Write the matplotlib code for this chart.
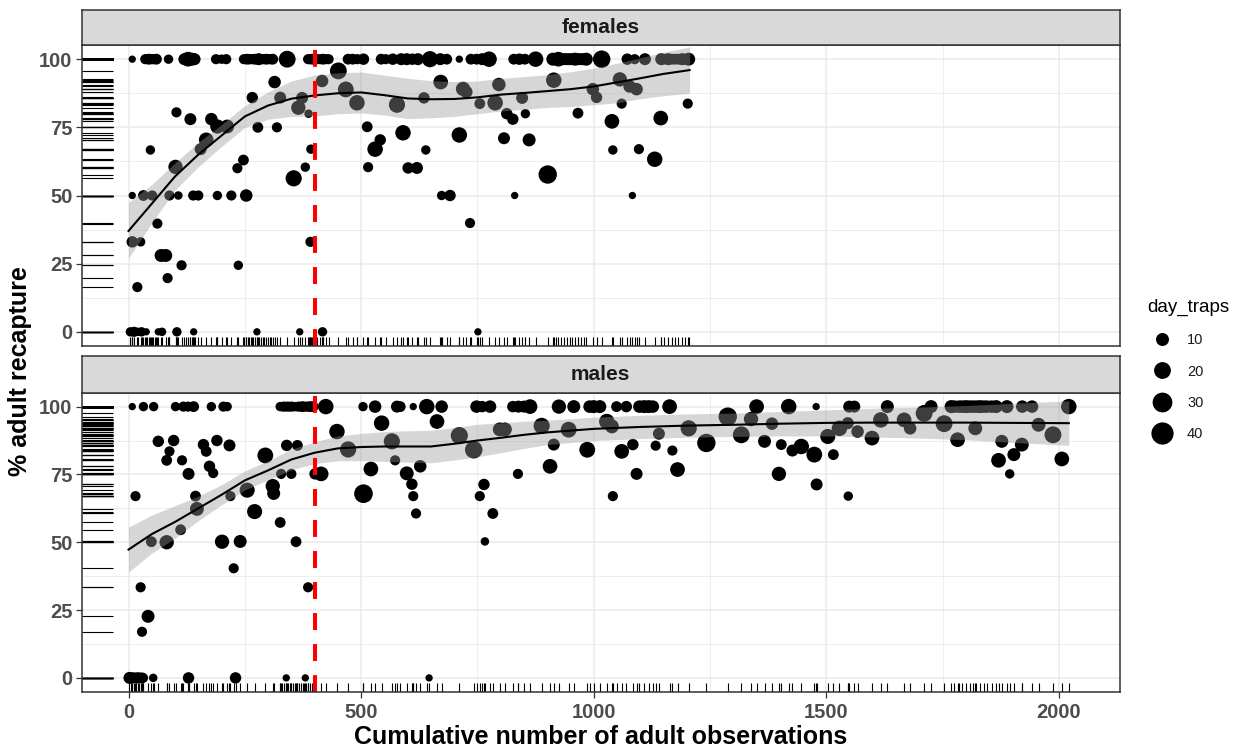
#!/usr/bin/env python3

"""
Adult recapture (%) against cumulative adult observations, females vs males,
with a loess-style smooth, its confidence band and marginal rugs.
"""

import numpy as np
import matplotlib

matplotlib.use("Agg")

import matplotlib.pyplot as plt
from matplotlib.lines import Line2D

plt.rcParams["font.family"] = ["Liberation Sans", "DejaVu Sans"]

DPI = 100
W_PX, H_PX = 1244, 752

# ---------------------------------------------------------------- females
fem_x = [
    # recapture 100 %
    8, 36, 44, 52, 60, 86, 120, 128, 136, 142, 188, 200, 210,
    248, 256, 264, 272, 280, 288, 296, 304, 310, 341, 386, 395, 405, 418, 430,
    472, 482, 492, 505, 543, 553, 568, 586, 598, 610, 622, 648, 670, 684, 711,
    736, 748, 760, 775, 828, 840, 852, 875, 912, 924, 936, 948, 960, 972, 984,
    1017, 1072, 1088, 1110, 1145, 1160, 1175, 1190, 1204,
    # recapture 0 %
    4, 12, 20, 28, 38, 64, 72, 104, 140, 276, 368, 417, 751,
    # recapture 50 %
    8, 32, 51, 88, 107, 139, 150, 191, 221, 253, 673, 691, 830, 1083,
    # everything else
    451, 416, 314, 467, 266, 326, 491, 577, 365, 373, 387, 103, 133, 178, 191,
    212, 278, 319, 513, 590, 167, 541, 155, 47, 392, 530, 234, 247, 101, 380,
    515, 355, 62, 8, 26, 391, 70, 80, 114, 236, 84, 19,
    635, 671, 719, 726, 755, 788, 796, 813, 826, 846, 853, 914, 966, 998, 1006,
    1056, 1077, 1092, 1060, 1202, 1039, 1144, 711, 807, 861, 639, 1041, 1097,
    1131, 601, 620, 901, 734,
    # more 100 % records hidden inside the clusters
    40, 48, 56, 124, 132, 139, 252, 260, 268, 276, 284, 292, 300, 307,
    390, 400, 412, 424, 918, 930, 942, 954, 966, 978, 1150, 1168, 1182, 1197,
]
fem_y = (
    [100] * 67
    + [0] * 13
    + [50] * 14
    + [
        95.7, 92, 91.6, 88.9, 85.9, 85.9, 84, 83.3, 82.2, 85.8, 80, 80.5, 78, 78,
        75.3, 75.3, 75, 75, 75.2, 73, 70.4, 70.4, 67, 66.7, 67, 67, 60, 63, 60.5,
        60.4, 60.4, 56.3, 39.7, 33, 33, 33, 28, 28, 24.4, 24.4, 19.7, 16.4,
        85.8, 91.6, 89.1, 88, 83.7, 84, 90.7, 80, 78, 85.8, 80, 92.3, 80.2, 89,
        86, 92.6, 90, 89, 83.7, 83.7, 77.2, 78.4, 72.2, 71, 70.4, 66.7, 66.7, 67,
        63.3, 60.1, 60.1, 57.7, 39.9,
    ]
    + [100] * 28
)
fem_traps = [
    2, 5, 6, 5, 6, 4, 8, 14, 10, 8, 5, 4, 5,
    5, 6, 5, 6, 8, 5, 6, 5, 6, 20, 5, 6, 5, 6, 5,
    6, 6, 5, 7, 6, 5, 7, 8, 8, 7, 8, 18, 8, 6, 2,
    6, 6, 8, 16, 6, 7, 6, 16, 10, 14, 8, 8, 10, 8, 10,
    22, 7, 5, 8, 8, 8, 6, 8, 10,
    4, 5, 3, 4, 2, 2, 3, 4, 2, 2, 2, 4, 2,
    2, 6, 5, 5, 3, 5, 5, 4, 5, 9, 4, 7, 2, 2,
    20, 9, 9, 17, 7, 8, 16, 18, 13, 8, 3, 5, 8, 9, 13,
    12, 6, 5, 6, 16, 14, 7, 8, 4, 4, 16, 5, 6, 13, 4,
    5, 18, 5, 7, 4, 5, 10, 10, 5, 4, 5, 5,
    7, 14, 13, 9, 6, 16, 11, 7, 7, 8, 4, 16, 6, 9, 7,
    13, 9, 9, 5, 5, 14, 14, 16, 8, 10, 4, 4, 5,
    16, 7, 8, 25, 5,
    5, 5, 5, 8, 8, 8, 5, 5, 5, 5, 5, 5, 5, 5,
    5, 5, 5, 5, 8, 8, 8, 8, 8, 8, 6, 6, 6, 6,
]

# ------------------------------------------------------------------ males
male_x = [
    # recapture 100 %
    8, 32, 54, 101, 118, 128, 140, 178, 204, 212,
    326, 334, 342, 350, 358, 366, 374, 382, 390, 397,
    424, 504, 530, 577, 584, 612, 641, 673, 748, 760, 777, 826, 838, 850, 863,
    925, 957, 991, 1000, 1013, 1049, 1070, 1098, 1108, 1118, 1127, 1163, 1350,
    1419, 1478, 1549, 1560, 1631, 1725, 1768, 1785, 1800, 1815, 1830, 1845,
    1865, 1888, 1921, 1942, 2021,
    # recapture 0 %
    2, 8, 14, 20, 26, 32, 53, 129, 230, 339, 380, 646,
    # everything else
    15, 64, 97, 88, 82, 115, 129, 144, 147, 161, 167, 190, 217, 174, 182, 219,
    255, 271, 294, 310, 312, 326, 328, 340, 350, 363, 360, 112, 49, 82, 201,
    240, 226, 26, 386, 42, 29, 414, 401, 448, 472, 544, 566, 573, 521, 505,
    598, 609, 612, 618, 627, 663, 711, 742, 764, 755, 783, 766, 798, 809, 837,
    888, 906, 914, 946, 986, 1028, 1039, 1041, 1060, 1084, 1092, 1133, 1140,
    1169, 1180, 1204, 1242, 1288, 1317, 1338,
    1367, 1383, 1403, 1398, 1427, 1446, 1474, 1479, 1503, 1515, 1528, 1546,
    1567, 1598, 1547, 1617, 1667, 1680, 1710, 1753, 1782, 1820, 1877, 1870,
    1894, 1903, 1920, 1956, 1987, 2006,
    # more records hidden inside the clusters (100 % then 0 %)
    330, 338, 346, 354, 362, 370, 378, 386, 394,
    1775, 1792, 1808, 1822, 1838, 1855,
    5, 11, 17, 23, 29,
]
male_y = (
    [100] * 65
    + [0] * 12
    + [
        67, 87.2, 87.5, 83.5, 80.2, 80.2, 75.2, 67, 62.3, 86, 83.5, 87.5, 85.7,
        78, 75.5, 67, 69.2, 61.3, 82, 70.7, 68, 57.3, 75.2, 85.7, 75.2, 85.7,
        50.2, 54.6, 50.2, 50, 50.2, 50.3, 40.4, 33.4, 33.4, 22.7, 17, 75.2, 75.2,
        90.8, 84.2, 93.9, 87.2, 80.2, 77, 67.9,
        75.4, 71.4, 67, 60.6, 78, 94.5, 89.3, 84.1, 71.3, 67, 60.6, 50.3, 91.6,
        91.6, 75.2, 92.9, 78, 86, 91.5, 84.1, 94.5, 92.7, 67, 83.5, 86, 75.2,
        85.6, 90, 83.8, 76.8, 92, 86.6, 96.3, 89.6, 95.4,
        87.2, 93.7, 86, 75.2, 83.8, 85.3, 82.3, 71.3, 89, 82.3, 92, 93.9, 90.8,
        88.4, 67, 95.1, 95.1, 92, 97.5, 93.7, 87.8, 92, 87.2, 80.2, 75.2, 82.3,
        86, 93.3, 89.6, 80.7,
    ]
    + [100] * 15
    + [0] * 5
)
male_traps = [
    2, 4, 4, 4, 5, 5, 6, 4, 5, 4,
    4, 5, 5, 5, 4, 5, 6, 5, 6, 6,
    16, 4, 9, 8, 6, 2, 16, 9, 9, 7, 9, 7, 8, 8, 14,
    13, 10, 9, 10, 10, 6, 7, 9, 10, 10, 9, 14, 14,
    16, 2, 8, 8, 10, 10, 10, 9, 10, 9, 10, 9,
    10, 10, 9, 9, 16,
    8, 6, 5, 6, 5, 4, 3, 7, 7, 2, 2, 2,
    5, 7, 7, 5, 6, 5, 8, 6, 12, 7, 6, 7, 8, 7, 5, 5,
    15, 15, 17, 13, 10, 6, 5, 7, 5, 6, 6, 6, 6, 13, 13,
    10, 5, 5, 5, 10, 5, 14, 7, 16, 18, 16, 18, 5, 14, 26,
    12, 7, 5, 5, 9, 14, 21, 22, 7, 5, 6, 3, 12, 12, 5,
    18, 14, 8, 17, 17, 16, 12, 5, 14, 7, 8, 5, 8,
    5, 14, 18, 25, 25, 20, 13,
    10, 9, 6, 13, 8, 16, 17, 8, 15, 6, 16, 8,
    9, 14, 4, 16, 14, 9, 20, 20, 14, 12, 10, 14,
    4, 10, 12, 12, 20, 14,
    4, 4, 4, 4, 4, 4, 4, 4, 4,
    9, 9, 9, 9, 9, 9,
    6, 6, 6, 6, 6,
]

# ------------------------------------------------- smooth fits and bands
fem_fit_x = [0, 50, 100, 150, 200, 250, 300, 350, 400, 450, 500, 550, 600,
             650, 700, 750, 800, 850, 900, 950, 1000, 1050, 1100, 1150, 1206]
fem_fit = [37, 47, 57, 65, 72, 79, 83, 85.5, 86.7, 87.5, 87.8, 86.8, 85.6,
           85.3, 85.4, 86, 87, 87.6, 88.3, 89, 90, 91.5, 93, 94.6, 96]
fem_lo = [27, 40, 52, 60.5, 68, 75, 78, 79, 79.2, 80, 80.3, 79.5, 78.2,
          78.5, 79, 80, 81, 81.6, 82.3, 82.6, 83.3, 84, 85.5, 86.6, 87.5]
fem_hi = [47.5, 54, 62, 69.5, 76, 83, 88, 92, 94.2, 95, 95.3, 94.1, 93,
          92.1, 91.8, 92, 93, 93.6, 94.3, 95.4, 96.7, 98.5, 100.5, 102.6, 104.5]

male_fit_x = [0, 50, 100, 150, 200, 250, 300, 350, 400, 450, 500, 550, 600,
              650, 700, 750, 800, 850, 900, 1000, 1100, 1200, 1300, 1400,
              1500, 1600, 1700, 1800, 1900, 2021]
male_fit = [47.3, 53, 57.5, 62.5, 67.5, 72.8, 76.5, 80.5, 83, 84.6, 85.1,
            85.3, 85.3, 85.3, 86.3, 87.5, 88.5, 89.6, 90.5, 91.8, 92.5, 93,
            93.3, 93.7, 94, 94.1, 94.1, 94.1, 94, 93.9]
male_lo = [39, 46, 51.5, 58, 63.8, 69.3, 73, 76.7, 79, 80, 80.1, 79.8, 79.5,
           79.3, 80.3, 81.5, 83, 84.6, 86, 87.5, 88.2, 88.7, 89, 89.2, 89.2,
           88.8, 88.4, 87.8, 86.8, 85.7]
male_hi = [55.6, 60, 63.5, 67, 71.2, 76.3, 80, 84.3, 87, 89.2, 90.1, 90.8,
           91.1, 91.3, 92.3, 93.5, 94, 94.6, 95, 96.1, 96.8, 97.3, 97.6, 98.2,
           98.8, 99.4, 99.8, 100.4, 101.2, 102.1]

legend_traps = [10, 20, 30, 40]
cutoff_obs = 400
y_ticks = [0, 25, 50, 75, 100]
x_ticks = [0, 500, 1000, 1500, 2000]


def diameter_pt(traps):
    """ggplot-like area scale: diameter grows with sqrt of day_traps."""
    t = np.asarray(traps, dtype=float)
    px = 4.5 + 19.0 * np.sqrt(np.clip(t - 1.0, 0, None) / 45.0)
    return px * 72.0 / DPI


def frac(left, top, right, bottom):
    """Pixel box of the reference image -> figure fraction rect."""
    return [left / W_PX, 1 - bottom / H_PX, (right - left) / W_PX, (bottom - top) / H_PX]


def add_strip(fig, rect, label):
    strip = fig.add_axes(rect)
    strip.set_facecolor("#D9D9D9")
    strip.set_xticks([])
    strip.set_yticks([])
    for spine in strip.spines.values():
        spine.set_color("#333333")
        spine.set_linewidth(1.1)
    strip.text(0.5, 0.5, label, ha="center", va="center", fontsize=15,
               fontweight="bold", color="#1A1A1A", transform=strip.transAxes)


def draw_panel(ax, xs, ys, traps, fit_x, fit, lo, hi, show_x):
    ax.set_xlim(-100, 2130)
    ax.set_ylim(-5.2, 105.2)
    ax.set_xticks(x_ticks)
    ax.set_xticks([250, 750, 1250, 1750], minor=True)
    ax.set_yticks(y_ticks)
    ax.set_yticks([12.5, 37.5, 62.5, 87.5], minor=True)
    ax.grid(True, which="major", color="#EBEBEB", linewidth=1.1)
    ax.grid(True, which="minor", color="#EBEBEB", linewidth=0.6)
    ax.set_axisbelow(True)

    ax.scatter(xs, ys, s=diameter_pt(traps) ** 2, color="black",
               linewidths=0, zorder=2)
    ax.vlines(xs, 0, 0.03, transform=ax.get_xaxis_transform(),
              color="black", linewidth=0.8, zorder=2)
    ax.hlines(ys, 0, 0.03, transform=ax.get_yaxis_transform(),
              color="black", linewidth=0.8, zorder=2)
    ax.fill_between(fit_x, lo, hi, color="#999999", alpha=0.4,
                    linewidth=0, zorder=3)
    ax.plot(fit_x, fit, color="black", linewidth=1.5, zorder=4)
    ax.axvline(cutoff_obs, color="red", linewidth=2.9,
               linestyle=(0, (4.2, 3.5)), zorder=5)

    for spine in ax.spines.values():
        spine.set_color("#333333")
        spine.set_linewidth(1.1)
        spine.set_zorder(6)
    ax.tick_params(axis="y", length=4, width=0.9, color="#333333", pad=3,
                   labelsize=14.5, labelcolor="#4D4D4D")
    ax.tick_params(axis="both", which="minor", length=0)
    for lab in ax.get_yticklabels():
        lab.set_fontweight("bold")
    if show_x:
        ax.tick_params(axis="x", length=4, width=0.9, color="#333333", pad=4,
                       labelsize=14.5, labelcolor="#4D4D4D")
        for lab in ax.get_xticklabels():
            lab.set_fontweight("bold")
    else:
        ax.tick_params(axis="x", length=0, labelbottom=False)


def main():
    fig = plt.figure(figsize=(W_PX / DPI, H_PX / DPI), dpi=DPI)

    ax_f = fig.add_axes(frac(82, 45, 1119.5, 346))
    ax_m = fig.add_axes(frac(82, 392.5, 1119.5, 692))
    add_strip(fig, frac(82, 10, 1119.5, 45), "females")
    add_strip(fig, frac(82, 356, 1119.5, 392.5), "males")

    draw_panel(ax_f, fem_x, fem_y, fem_traps, fem_fit_x, fem_fit, fem_lo, fem_hi, False)
    draw_panel(ax_m, male_x, male_y, male_traps, male_fit_x, male_fit, male_lo, male_hi, True)

    fig.text(601 / W_PX, 1 - 737 / H_PX, "Cumulative number of adult observations",
             ha="center", va="center", fontsize=18, fontweight="bold")
    fig.text(20 / W_PX, 1 - 371 / H_PX, "% adult recapture", rotation=90,
             ha="center", va="center", fontsize=18, fontweight="bold")

    handles = [
        Line2D([], [], marker="o", linestyle="none", color="black",
               markeredgewidth=0, markersize=float(diameter_pt(t)))
        for t in legend_traps
    ]
    fig.legend(handles, [str(t) for t in legend_traps], title="day_traps",
               loc="upper left", bbox_to_anchor=(1147 / W_PX, 1 - 299 / H_PX),
               frameon=False, fontsize=10.5, title_fontsize=13.5,
               labelspacing=1.18, handletextpad=0.75, alignment="left",
               borderpad=0, borderaxespad=0, labelcolor="#1A1A1A")

    fig.savefig("out.png", dpi=DPI)
    plt.close(fig)


if __name__ == "__main__":
    main()
